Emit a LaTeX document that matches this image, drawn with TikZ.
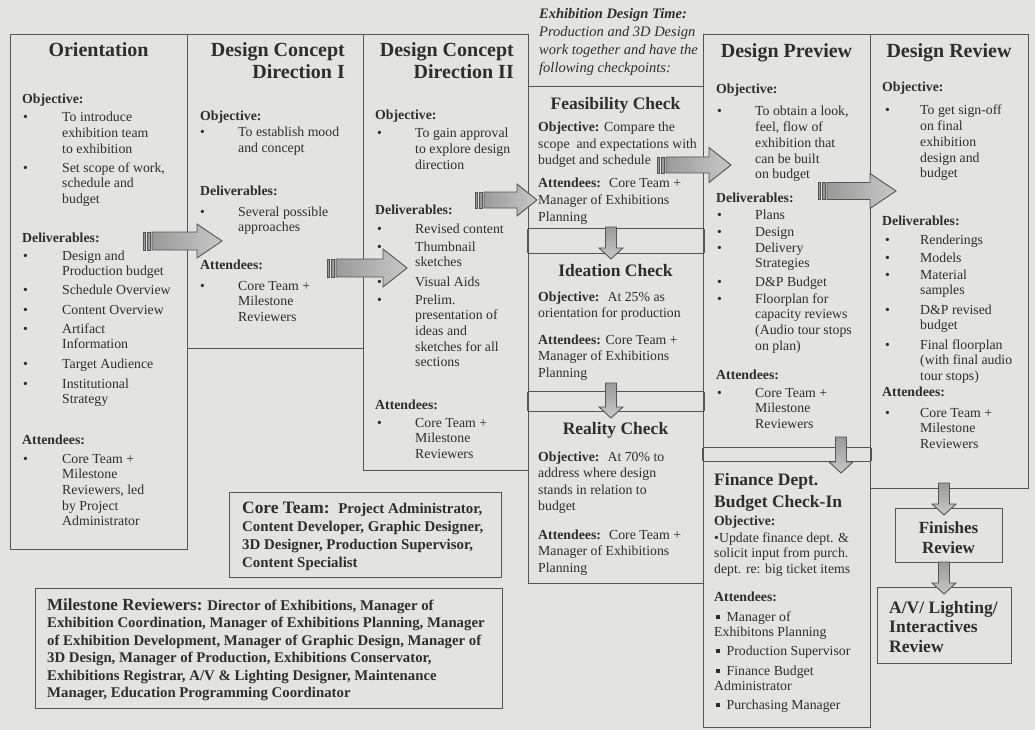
\documentclass[tikz,border=0pt]{standalone}
\usepackage{fontspec}
\setmainfont{Liberation Serif}
\usetikzlibrary{calc}
\definecolor{bgc}{HTML}{E3E3E1}
\definecolor{ln}{HTML}{555555}
\definecolor{ink}{HTML}{2E2E2E}
\definecolor{arrdark}{HTML}{9A9A9A}
\definecolor{arrlight}{HTML}{C8C8C8}

\newlength\bind
\newcommand\bm{\textbullet}
\newcommand\sq{\rule[2.5pt]{3.5pt}{3.5pt}}
\newcommand\pb[1]{\parbox[t]{320pt}{#1}}
% heading line: name, x, baseline y, text
\newcommand\hd[4]{\node[hdst] (#1) at (#2,#3) {#4};}
% bullet item: name, bullet x, first baseline y, lines
\newcommand\bi[4]{\node[tx] (#1) at (#2,#3) {\makebox[\bind][l]{\bm}\parbox[t]{140pt}{#4}};}
% striped block arrow pointing right: tail, tip, shaft half height, head half height, head length
\newcommand\harr[5]{%
  \draw[arrline, left color=arrdark, right color=arrlight] let \p1=(#1), \p2=(#2) in
    (\x1+9pt,\y1+#3pt) -- (\x2-#5pt,\y1+#3pt) -- (\x2-#5pt,\y1+#4pt) -- (\x2,\y1)
    -- (\x2-#5pt,\y1-#4pt) -- (\x2-#5pt,\y1-#3pt) -- (\x1+9pt,\y1-#3pt) -- cycle;
  \draw[arrline, fill=arrdark] let \p1=(#1) in
    (\x1,\y1+#3pt) rectangle (\x1+2pt,\y1-#3pt)
    (\x1+4pt,\y1+#3pt) rectangle (\x1+7pt,\y1-#3pt);
}
% block arrow pointing down: tail, tip
\newcommand\varr[2]{%
  \draw[arrline, top color=arrdark, bottom color=arrlight] let \p1=(#1), \p2=(#2) in
    (\x1-5.5pt,\y1) -- (\x1+5.5pt,\y1) -- (\x1+5.5pt,\y2+11pt) -- (\x1+12pt,\y2+11pt)
    -- (\x1,\y2) -- (\x1-12pt,\y2+11pt) -- (\x1-5.5pt,\y2+11pt) -- cycle;
}

\begin{document}
\begin{tikzpicture}[x=1pt,y=-1pt,
  box/.style={draw=ln, line width=1.1pt, anchor=north west, inner sep=0pt, rectangle},
  tx/.style={anchor=base west, inner sep=0pt, text=ink, font=\fontsize{13.8}{15.7}\selectfont},
  hdst/.style={tx, font=\fontsize{13.8}{15.7}\selectfont\bfseries},
  ttl/.style={anchor=base, inner sep=0pt, text=ink, font=\fontsize{20}{22}\selectfont\bfseries},
  chk/.style={anchor=base, inner sep=0pt, text=ink, font=\fontsize{17.5}{22}\selectfont\bfseries},
  mid/.style={tx, font=\fontsize{13.8}{16.5}\selectfont},
  arrline/.style={draw=ln, line width=0.9pt, line join=miter},
]
\useasboundingbox (0,0) rectangle (1035,730);
\fill[bgc] (0,0) rectangle (1035,730);

% ---------- frames ----------
\node[box, minimum width=177pt, minimum height=515pt] (orient) at (10,34) {};
\node[box, minimum width=176pt, minimum height=314pt] (dc1) at (187,34) {};
\node[box, minimum width=165pt, minimum height=436pt] (dc2) at (363,34) {};
\node[box, minimum width=175pt, minimum height=142pt] (feas) at (528,86) {};
\node[box, minimum width=175pt, minimum height=138pt] (idea) at (528,253) {};
\node[box, minimum width=175pt, minimum height=172pt] (real) at (528,411) {};
\node[box, minimum width=167pt, minimum height=413pt] (prev) at (703,34) {};
\node[box, minimum width=167pt, minimum height=266pt] (fin) at (703,461) {};
\node[box, minimum width=158pt, minimum height=454pt] (rev) at (870,34) {};
\node[box, minimum width=107pt, minimum height=54pt] (fini) at (895,508) {};
\node[box, minimum width=134pt, minimum height=76pt] (av) at (877,587) {};
\node[box, minimum width=272pt, minimum height=85pt] (core) at (229,492) {};
\node[box, minimum width=467pt, minimum height=120pt] (miles) at (35,588) {};
\draw[draw=ln, line width=1.1pt]
  (feas.south west) -- (idea.north west) (feas.south east) -- (idea.north east)
  (idea.south west) -- (real.north west) (idea.south east) -- (real.north east)
  (prev.south west) -- (fin.north west) (prev.south east) -- (fin.north east);

% ---------- Orientation ----------
\node[ttl] (or-t) at (98.5,57) {Orientation};
\setlength{\bind}{39pt}
\hd{or-obj}{22}{104}{Objective:}
\bi{or-o1}{23}{122}{To introduce\\exhibition team\\to exhibition}
\bi{or-o2}{23}{172}{Set scope of work,\\schedule and\\budget}
\hd{or-del}{22}{242}{Deliverables:}
\bi{or-d1}{23}{260}{Design and\\Production budget}
\bi{or-d2}{23}{294}{Schedule Overview}
\bi{or-d3}{23}{314}{Content Overview}
\bi{or-d4}{23}{333}{Artifact\\Information}
\bi{or-d5}{23}{368}{Target Audience}
\bi{or-d6}{23}{388}{Institutional\\Strategy}
\hd{or-att}{22}{444}{Attendees:}
\bi{or-a1}{23}{463}{Core Team +\\Milestone\\Reviewers, led\\by Project\\Administrator}

% ---------- Design Concept Direction I ----------
\node[ttl, anchor=base east] (d1-t1) at (345,57) {Design Concept};
\node[ttl, anchor=base east] (d1-t2) at (345,79) {Direction I};
\setlength{\bind}{38pt}
\hd{d1-obj}{200}{121}{Objective:}
\bi{d1-o1}{200}{137}{To establish mood\\and concept}
\hd{d1-del}{200}{196}{Deliverables:}
\bi{d1-d1}{200}{216}{Several possible\\approaches}
\hd{d1-att}{200}{269}{Attendees:}
\bi{d1-a1}{200}{290}{Core Team +\\Milestone\\Reviewers}

% ---------- Design Concept Direction II ----------
\node[ttl, anchor=base east] (d2-t1) at (514,57) {Design Concept};
\node[ttl, anchor=base east] (d2-t2) at (514,79) {Direction II};
\hd{d2-obj}{375}{120}{Objective:}
\bi{d2-o1}{377}{138}{To gain approval\\to explore design\\direction}
\hd{d2-del}{375}{214}{Deliverables:}
\bi{d2-d1}{377}{233}{Revised content}
\bi{d2-d2}{377}{251}{Thumbnail\\sketches}
\bi{d2-d3}{377}{286}{Visual Aids}
\bi{d2-d4}{377}{304}{Prelim.\\presentation of\\ideas and\\sketches for all\\sections}
\hd{d2-att}{375}{409}{Attendees:}
\bi{d2-a1}{377}{427}{Core Team +\\Milestone\\Reviewers}

% ---------- checkpoints ----------
\node[tx, font=\fontsize{14.5}{17.7}\selectfont\itshape] (hdr) at (539,19)
  {\pb{\textbf{Exhibition Design Time:}\\Production and 3D Design\\work together and have the\\following checkpoints:}};
\node[chk] (fe-t) at (615.5,110) {Feasibility Check};
\node[mid] (fe-o) at (538,132) {\pb{\textbf{Objective:} Compare the\\scope~ and expectations with\\budget and schedule}};
\node[mid] (fe-a) at (538,188) {\pb{\textbf{Attendees:}~ Core Team +\\Manager of Exhibitions\\Planning}};
\node[chk] (id-t) at (615.5,276) {Ideation Check};
\node[mid] (id-o) at (538,301) {\pb{\textbf{Objective:}~ At 25\% as\\orientation for production}};
\node[mid] (id-a) at (538,344) {\pb{\textbf{Attendees:} Core Team +\\Manager of Exhibitions\\Planning}};
\node[chk] (re-t) at (615.5,434) {Reality Check};
\node[mid] (re-o) at (538,461) {\pb{\textbf{Objective:}~ At 70\% to\\address where design\\stands in relation to\\budget}};
\node[mid] (re-a) at (538,539) {\pb{\textbf{Attendees:}~ Core Team +\\Manager of Exhibitions\\Planning}};

% ---------- Design Preview ----------
\node[ttl] (pv-t) at (786.5,58) {Design Preview};
\hd{pv-obj}{716}{94}{Objective:}
\bi{pv-o1}{717}{116}{To obtain a look,\\feel, flow of\\exhibition that\\can be built\\on budget}
\hd{pv-del}{716}{202}{Deliverables:}
\bi{pv-d1}{717}{219}{Plans}
\bi{pv-d2}{717}{236}{Design}
\bi{pv-d3}{717}{252}{Delivery\\Strategies}
\bi{pv-d4}{717}{286}{D\&P Budget}
\bi{pv-d5}{717}{303}{Floorplan for\\capacity reviews\\(Audio tour stops\\on plan)}
\hd{pv-att}{716}{379}{Attendees:}
\bi{pv-a1}{717}{397}{Core Team +\\Milestone\\Reviewers}

% ---------- Finance check-in ----------
\node[tx, font=\fontsize{17.5}{22}\selectfont\bfseries] (fn-t) at (714,485) {\pb{Finance Dept.\\Budget Check-In}};
\hd{fn-obj}{714}{525}{Objective:}
\node[tx, font=\fontsize{13.8}{15.5}\selectfont] (fn-o) at (714,542) {\pb{\bm Update finance dept. \&\\solicit input from purch.\\dept. re: big ticket items}};
\hd{fn-att}{714}{601}{Attendees:}
\node[tx] (fn-a1) at (716,621) {\pb{\sq~ Manager of\\\hspace*{-2pt}Exhibitons Planning}};
\node[tx] (fn-a2) at (716,655) {\sq~ Production Supervisor};
\node[tx] (fn-a3) at (716,675) {\pb{\sq~ Finance Budget\\\hspace*{-2pt}Administrator}};
\node[tx] (fn-a4) at (716,709) {\sq~ Purchasing Manager};

% ---------- Design Review ----------
\node[ttl] (rv-t) at (949,58) {Design Review};
\setlength{\bind}{35pt}
\hd{rv-obj}{882}{92}{Objective:}
\bi{rv-o1}{885}{115}{To get sign-off\\on final\\exhibition\\design and\\budget}
\hd{rv-del}{882}{225}{Deliverables:}
\bi{rv-d1}{885}{244}{Renderings}
\bi{rv-d2}{885}{262}{Models}
\bi{rv-d3}{885}{279}{Material\\samples}
\bi{rv-d4}{885}{314}{D\&P revised\\budget}
\bi{rv-d5}{885}{349}{Final floorplan\\(with final audio\\tour stops)}
\hd{rv-att}{882}{396}{Attendees:}
\bi{rv-a1}{885}{417}{Core Team +\\Milestone\\Reviewers}

% ---------- follow-up reviews ----------
\node[chk, font=\fontsize{17}{20}\selectfont\bfseries] (fi-t) at (948.5,533)
  {\parbox[t]{100pt}{\centering Finishes\\Review}};
\node[tx, font=\fontsize{17.5}{19.5}\selectfont\bfseries] (av-t) at (889,613)
  {\pb{A/V/ Lighting/\\Interactives\\Review}};

% ---------- team lists ----------
\node[tx, font=\fontsize{14.9}{18.2}\selectfont\bfseries] (core-t) at (242,513)
  {\pb{{\fontsize{17.4}{18}\selectfont Core Team:}~ Project Administrator,\\Content Developer, Graphic Designer,\\3D Designer, Production Supervisor,\\Content Specialist}};
\node[tx, font=\fontsize{14.8}{17.5}\selectfont\bfseries] (miles-t) at (47,610)
  {\parbox[t]{460pt}{{\fontsize{17}{17}\selectfont Milestone Reviewers:} Director of Exhibitions, Manager of\\
  Exhibition Coordination, Manager of Exhibitions Planning, Manager\\
  of Exhibition Development, Manager of Graphic Design, Manager of\\
  3D Design, Manager of Production, Exhibitions Conservator,\\
  Exhibitions Registrar, A/V \& Lighting Designer, Maintenance\\
  Manager, Education Programming Coordinator}};

% ---------- flow arrows ----------
\coordinate (a1t) at (143,241); \coordinate (a1h) at (222,241);
\coordinate (a2t) at (327,268); \coordinate (a2h) at (407,268);
\coordinate (a3t) at (475,200); \coordinate (a3h) at (537,200);
\coordinate (a4t) at (657,165); \coordinate (a4h) at (731,165);
\coordinate (a5t) at (818,191); \coordinate (a5h) at (896,191);
\harr{a1t}{a1h}{9}{17}{25}
\harr{a2t}{a2h}{9}{19}{24}
\harr{a3t}{a3h}{8}{16}{20}
\harr{a4t}{a4h}{8}{17.5}{22}
\harr{a5t}{a5h}{8.5}{17.5}{26}

\coordinate (v1t) at (611,227); \coordinate (v1h) at (611,259);
\coordinate (v2t) at (611,383); \coordinate (v2h) at (611,418);
\coordinate (v3t) at (841,437); \coordinate (v3h) at (841,473);
\coordinate (v4t) at (944,483); \coordinate (v4h) at (944,515);
\coordinate (v5t) at (944,562); \coordinate (v5h) at (944,594);
\varr{v1t}{v1h}
\varr{v2t}{v2h}
\varr{v3t}{v3h}
\varr{v4t}{v4h}
\varr{v5t}{v5h}
\end{tikzpicture}
\end{document}
